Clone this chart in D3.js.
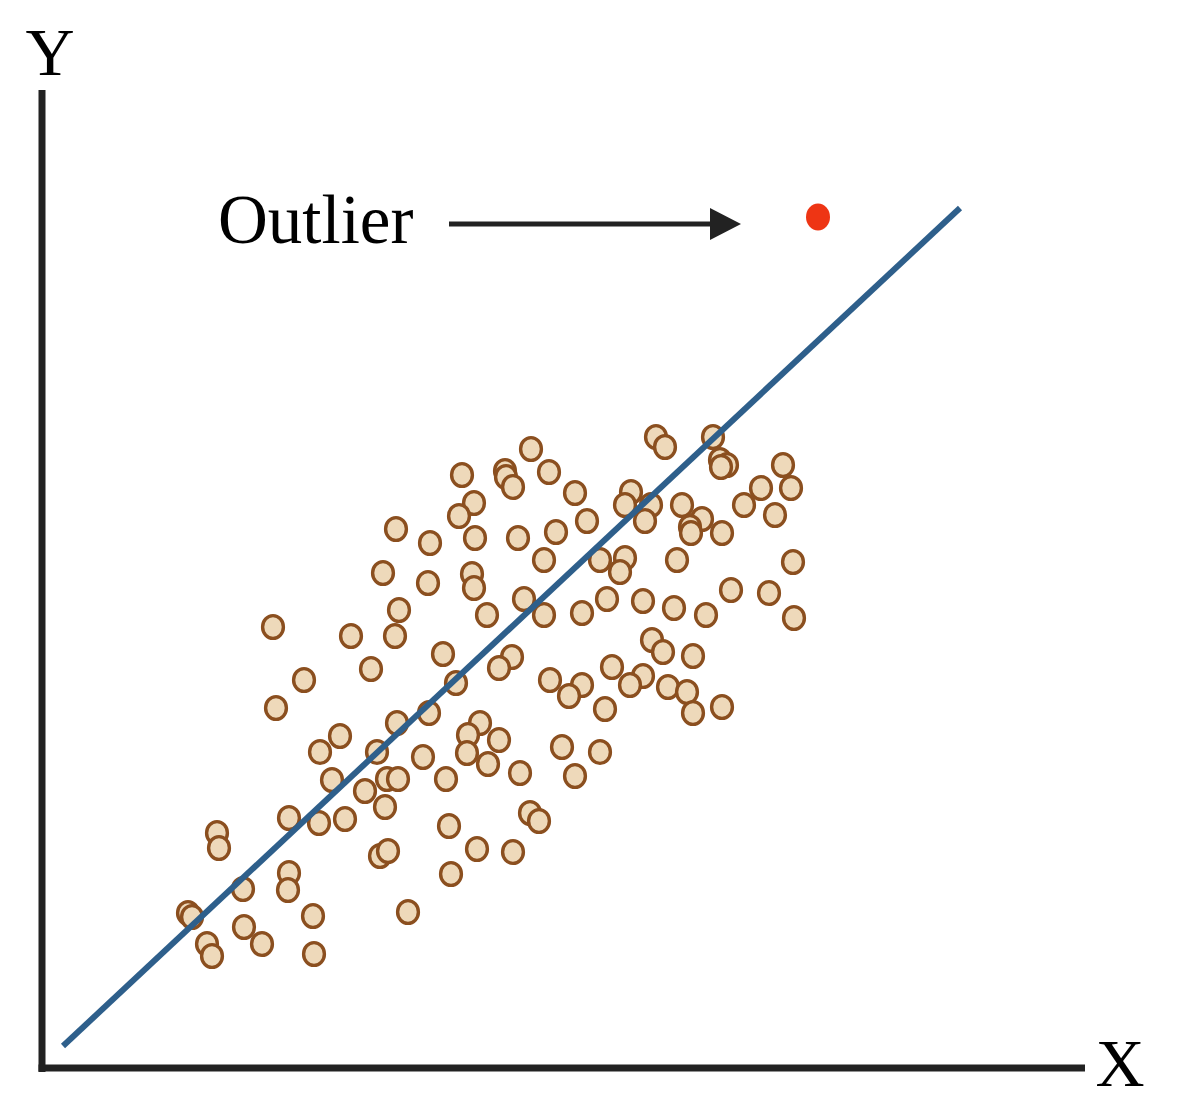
<!DOCTYPE html>
<html>
<head>
<meta charset="utf-8">
<script src="https://cdn.jsdelivr.net/npm/d3@7"></script>
<style>
  html, body { margin: 0; padding: 0; background: #fff; }
  svg { display: block; }
</style>
</head>
<body>
<div id="chart"></div>
<script>
// ---- data (in chart units) ----
const pointsX = [48.9,61.4,62.3,67.1,67.8,68.5,67.9,74.1,42.0,46.3,46.4,47.1,50.7,53.3,43.2,41.7,54.5,51.4,35.4,38.8,
  43.3,47.6,50.2,58.9,58.3,60.9,60.3,64.0,66.0,64.8,64.9,68.0,74.9,71.9,70.2,73.3,55.8,58.3,57.8,63.5,
  75.1,68.9,72.7,56.5,60.1,63.2,66.4,75.2,34.1,38.6,43.0,43.2,48.2,35.7,44.5,50.2,54.0,23.1,30.9,35.3,
  32.9,26.2,23.4,40.1,47.0,45.7,41.4,50.8,54.0,52.7,56.3,61.0,62.1,65.1,57.0,60.1,58.8,62.6,64.5,65.1,
  68.0,38.7,35.5,43.8,42.6,45.7,42.5,38.1,29.8,27.8,33.5,55.8,52.0,44.6,29.0,32.3,34.5,35.6,40.4,47.8,
  53.3,34.3,24.7,27.7,30.3,17.5,17.7,33.8,34.6,40.7,43.5,47.1,40.9,48.8,49.7,24.7,24.6,20.1,14.6,15.0,
  27.1,20.2,22.0,16.5,17.0,27.2,36.6];
const pointsY = [61.9,63.1,62.1,63.1,60.8,60.3,60.1,60.3,59.3,59.7,59.1,58.1,59.6,57.5,56.5,55.2,54.7,53.6,53.9,52.5,
  53.0,53.0,50.8,57.6,56.3,56.3,54.7,56.3,54.9,54.1,53.5,53.5,58.0,58.0,56.3,55.3,50.8,51.0,49.6,50.8,
  50.6,47.8,47.5,46.9,46.7,46.0,45.3,45.0,49.5,48.5,49.4,48.0,46.9,45.8,45.3,45.3,45.5,44.1,43.2,43.2,
  39.9,38.8,36.0,41.4,41.1,40.0,38.5,38.8,38.3,37.2,35.9,42.8,41.6,41.2,40.1,39.2,38.3,38.1,37.6,35.5,
  36.1,35.5,34.5,34.5,33.3,32.8,31.5,31.1,33.2,31.6,31.6,31.6,32.1,30.4,28.8,27.7,28.9,28.9,28.9,29.5,
  29.2,26.1,25.0,24.5,24.9,23.5,22.0,21.2,21.7,24.2,21.9,21.6,19.4,25.5,24.7,19.5,17.8,17.9,15.5,15.1,
  15.2,14.1,12.4,12.4,11.2,11.4,15.6];
const outlierX = [77.6];
const outlierY = [85.1];
const fitLineX = [2.1, 91.8];
const fitLineY = [2.2, 86.0];
const arrowX = [40.7, 69.9];
const arrowY = [84.4, 84.4];
const labelOutlier = "Outlier";
const labelOutlierPos = [17.6, 82.5];
const axisLabels = ["X", "Y"];
const xDomain = [0, 104.3];
const yDomain = [0, 97.6];

// ---- drawing ----
const W = 1197, H = 1110;
const svg = d3.select("#chart").append("svg").attr("width", W).attr("height", H);

const x = d3.scaleLinear().domain(xDomain).range([42, 1085]);
const y = d3.scaleLinear().domain(yDomain).range([1068, 92]);

const serif = "'Liberation Serif', 'Times New Roman', serif";

// axes
svg.append("line")
  .attr("x1", x(0)).attr("x2", x(0))
  .attr("y1", y(yDomain[1]) - 2).attr("y2", y(0) + 4)
  .attr("stroke", "#222").attr("stroke-width", 7);
svg.append("line")
  .attr("x1", x(0) - 3.5).attr("x2", x(xDomain[1]))
  .attr("y1", y(0)).attr("y2", y(0))
  .attr("stroke", "#222").attr("stroke-width", 7);

svg.append("text").text(axisLabels[1])
  .attr("x", x(0) + 8).attr("y", 75)
  .attr("text-anchor", "middle")
  .attr("font-family", serif).attr("font-size", 68).attr("fill", "#000");
svg.append("text").text(axisLabels[0])
  .attr("x", x(xDomain[1]) + 35).attr("y", y(0) + 18)
  .attr("text-anchor", "middle")
  .attr("font-family", serif).attr("font-size", 68).attr("fill", "#000");

// scatter points
const pts = pointsX.map((v, i) => ({x: v, y: pointsY[i]}));
svg.append("g").selectAll("ellipse").data(pts).join("ellipse")
  .attr("cx", d => x(d.x)).attr("cy", d => y(d.y))
  .attr("rx", 10.4).attr("ry", 11.4)
  .attr("fill", "#EED9BA").attr("stroke", "#8B4F1F").attr("stroke-width", 3.4);

// fitted line
svg.append("line")
  .attr("x1", x(fitLineX[0])).attr("y1", y(fitLineY[0]))
  .attr("x2", x(fitLineX[1])).attr("y2", y(fitLineY[1]))
  .attr("stroke", "#2E5F8B").attr("stroke-width", 6);

// outlier
svg.append("g").selectAll("ellipse").data(outlierX.map((v, i) => ({x: v, y: outlierY[i]}))).join("ellipse")
  .attr("cx", d => x(d.x)).attr("cy", d => y(d.y))
  .attr("rx", 12).attr("ry", 13.5).attr("fill", "#EE3514");

// arrow
const ax0 = x(arrowX[0]), ax1 = x(arrowX[1]), ay = y(arrowY[0]);
svg.append("line")
  .attr("x1", ax0).attr("x2", ax1 - 28).attr("y1", ay).attr("y2", ay)
  .attr("stroke", "#222").attr("stroke-width", 5);
svg.append("path")
  .attr("d", `M${ax1 - 31},${ay - 16}L${ax1},${ay}L${ax1 - 31},${ay + 16}Z`)
  .attr("fill", "#222");

svg.append("text").text(labelOutlier)
  .attr("x", x(labelOutlierPos[0])).attr("y", y(labelOutlierPos[1]))
  .attr("font-family", serif).attr("font-size", 69).attr("fill", "#000");
</script>
</body>
</html>
